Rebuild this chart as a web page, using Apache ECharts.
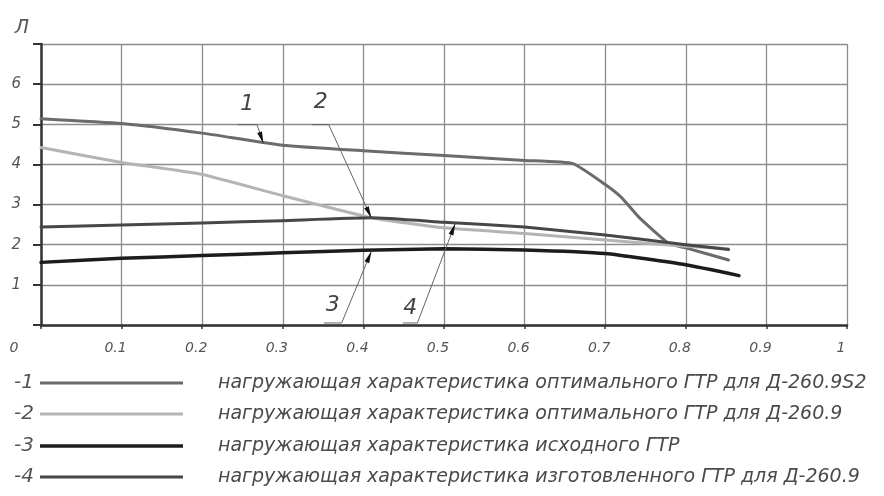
<!DOCTYPE html>
<html>
<head>
<meta charset="utf-8">
<script src="https://cdn.jsdelivr.net/npm/echarts@6/dist/echarts.min.js"></script>
<style>
  html, body { margin: 0; padding: 0; background: #fff; }
  #chart { width: 884px; height: 496px; }
</style>
</head>
<body>
<div id="chart"></div>
<script>
// Loading characteristics of the gas-turbine drive (Л vs relative flow)
const seriesNames = [
  'нагружающая характеристика оптимального ГТР для Д-260.9S2',
  'нагружающая характеристика оптимального ГТР для Д-260.9',
  'нагружающая характеристика исходного ГТР',
  'нагружающая характеристика изготовленного ГТР для Д-260.9'
];
const seriesKeys = ['1', '2', '3', '4'];

// curve 1 — optimal drive for D-260.9S2
const curve1 = [[0, 5.14], [0.1, 5.02], [0.2, 4.78], [0.3, 4.48], [0.4, 4.34], [0.5, 4.22],
  [0.6, 4.1], [0.66, 4.02], [0.7, 3.5], [0.72, 3.18], [0.742, 2.68], [0.779, 2.03], [0.8, 1.92], [0.853, 1.62]];
// curve 2 — optimal drive for D-260.9
const curve2 = [[0, 4.42], [0.1, 4.05], [0.2, 3.75], [0.3, 3.22], [0.408, 2.68], [0.5, 2.42],
  [0.6, 2.28], [0.7, 2.12], [0.8, 1.96], [0.853, 1.9]];
// curve 3 — original drive
const curve3 = [[0, 1.56], [0.1, 1.66], [0.2, 1.73], [0.3, 1.8], [0.4, 1.86], [0.5, 1.9],
  [0.6, 1.87], [0.7, 1.78], [0.8, 1.5], [0.866, 1.23]];
// curve 4 — manufactured drive for D-260.9
const curve4 = [[0, 2.44], [0.1, 2.49], [0.2, 2.54], [0.3, 2.6], [0.41, 2.67], [0.5, 2.56],
  [0.6, 2.44], [0.7, 2.24], [0.8, 2.0], [0.853, 1.88]];

const xTickLabels = ['0', '0.1', '0.2', '0.3', '0.4', '0.5', '0.6', '0.7', '0.8', '0.9', '1'];
const yTickLabels = ['', '1', '2', '3', '4', '5', '6', ''];

// callout numbers: label position, shelf [x0, x1, y], arrow tip (data units)
const calloutLabel = [[0.256, 5.5], [0.347, 5.55], [0.362, 0.5], [0.458, 0.42]];
const calloutShelf = [[0.244, 0.268, 4.99], [0.336, 0.357, 4.99], [0.351, 0.373, 0.05], [0.449, 0.467, 0.05]];
const calloutTip = [[0.276, 4.52], [0.41, 2.66], [0.41, 1.84], [0.514, 2.53]];

const curves = [curve1, curve2, curve3, curve4];
const colors = ['#6b6b6b', '#b4b4b4', '#1c1c1c', '#474747'];
const widths = [3, 3, 3.5, 3];

const font = 'DejaVu Sans';
const textColor = '#4a4a4a';

const chart = echarts.init(document.getElementById('chart'), null, { renderer: 'canvas' });

const legendTops = [371, 402, 434, 465];

chart.setOption({
  animation: false,
  backgroundColor: '#ffffff',
  grid: { left: 41, right: 37, top: 44, bottom: 171, containLabel: false },
  xAxis: {
    type: 'value', min: 0, max: 1, interval: 0.1,
    axisLine: { lineStyle: { color: '#333', width: 2.5 } },
    axisTick: { show: true, length: 4, lineStyle: { color: '#333', width: 1.5 } },
    splitLine: { show: true, lineStyle: { color: '#8c8c8c', width: 1.3 } },
    axisLabel: {
      margin: 16,
      formatter: function (v) {
        const i = Math.round(v * 10);
        return i === 0 ? '{z|' + xTickLabels[i] + '}' : '{a|' + xTickLabels[i] + '}';
      },
      rich: {
        a: { fontFamily: font, fontStyle: 'italic', fontSize: 14, color: '#555', padding: [0, 12, 0, 0] },
        z: { fontFamily: font, fontStyle: 'italic', fontSize: 14, color: '#555', padding: [0, 54, 0, 0] }
      }
    }
  },
  yAxis: {
    type: 'value', min: 0, max: 7, interval: 1,
    name: 'Л', nameLocation: 'end', nameGap: 16,
    nameTextStyle: { fontFamily: font, fontStyle: 'italic', fontSize: 19, color: '#555', align: 'right', verticalAlign: 'middle', padding: [0, 12, 0, 0] },
    axisLine: { show: true, lineStyle: { color: '#333', width: 2.5 } },
    axisTick: { show: true, length: 8, lineStyle: { color: '#333', width: 2 } },
    splitLine: { show: true, lineStyle: { color: '#8c8c8c', width: 1.3 } },
    axisLabel: {
      margin: 20, fontFamily: font, fontStyle: 'italic', fontSize: 15, color: '#555',
      formatter: function (v) { return yTickLabels[Math.round(v)]; }
    }
  },
  legend: seriesNames.map(function (name, i) {
    const h = widths[i];
    return {
      data: [name], orient: 'horizontal', left: 40, top: legendTops[i], padding: 0,
      itemWidth: 143, itemHeight: 14, selectedMode: false,
      icon: 'path://M0,0 L143,0 L143,' + h + ' L0,' + h + ' Z',
      itemStyle: { color: colors[i] },
      textStyle: { fontFamily: font, fontStyle: 'italic', fontSize: 19, color: textColor, lineHeight: 24, padding: [0, 0, 0, 30] }
    };
  }),
  series: curves.map(function (d, i) {
    return {
      name: seriesNames[i], type: 'line', data: d, showSymbol: false, symbol: 'none',
      smooth: 0.15, lineStyle: { color: colors[i], width: widths[i], cap: 'round', join: 'round' },
      itemStyle: { color: colors[i] }, z: 3 + (i === 2 ? 1 : 0)
    };
  })
});

// Callout numbers with leader lines and arrowheads, placed via the axes
const graphics = [];
seriesKeys.forEach(function (key, i) {
  const lab = chart.convertToPixel({ gridIndex: 0 }, calloutLabel[i]);
  const s0 = chart.convertToPixel({ gridIndex: 0 }, [calloutShelf[i][0], calloutShelf[i][2]]);
  const s1 = chart.convertToPixel({ gridIndex: 0 }, [calloutShelf[i][1], calloutShelf[i][2]]);
  const tip = chart.convertToPixel({ gridIndex: 0 }, calloutTip[i]);
  graphics.push({
    type: 'text', x: lab[0], y: lab[1], z: 10,
    style: { text: key, fontFamily: font, fontStyle: 'italic', fontSize: 22, fill: '#444', align: 'center', verticalAlign: 'middle' }
  });
  graphics.push({
    type: 'polyline', z: 10,
    shape: { points: [s0, s1, tip] },
    style: { stroke: '#666', lineWidth: 1, fill: null }
  });
  const dx = s1[0] - tip[0], dy = s1[1] - tip[1];
  const len = Math.sqrt(dx * dx + dy * dy);
  const ux = dx / len, uy = dy / len;
  const bx = tip[0] + ux * 12, by = tip[1] + uy * 12;
  graphics.push({
    type: 'polygon', z: 11,
    shape: { points: [tip, [bx - uy * 2.5, by + ux * 2.5], [bx + uy * 2.5, by - ux * 2.5]] },
    style: { fill: '#111' }
  });
});
// Numbered prefixes of the legend rows
seriesKeys.forEach(function (key, i) {
  graphics.push({
    type: 'text', x: 24, y: legendTops[i] + 12, z: 10,
    style: { text: '-' + key, fontFamily: font, fontStyle: 'italic', fontSize: 20, fill: '#555', align: 'center', verticalAlign: 'middle' }
  });
});
chart.setOption({ graphic: graphics });
</script>
</body>
</html>
